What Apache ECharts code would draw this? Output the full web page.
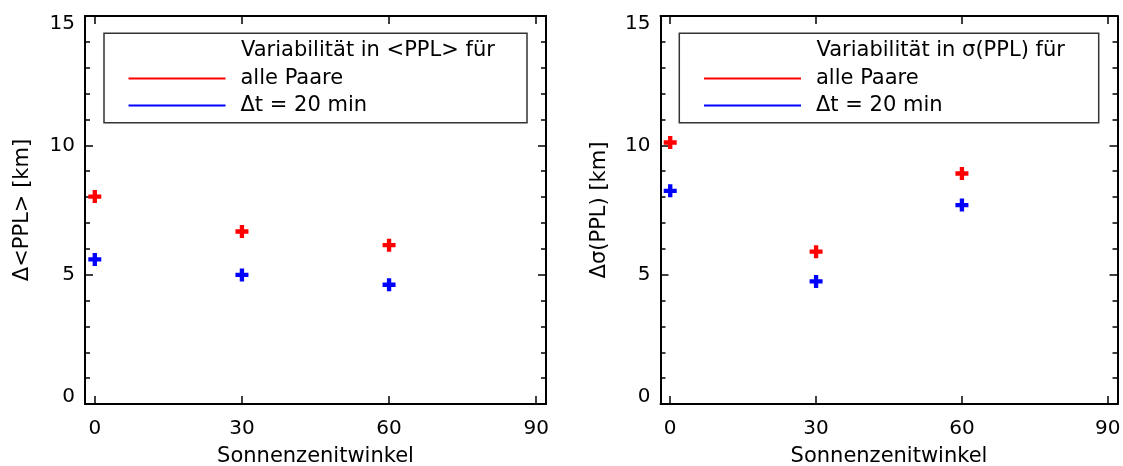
<!DOCTYPE html>
<html><head><meta charset="utf-8">
<script src="https://cdn.jsdelivr.net/npm/echarts@6/dist/echarts.min.js"></script>
<style>html,body{margin:0;padding:0;background:#fff}#c{width:1123px;height:466px}</style>
</head><body><div id="c"></div>
<script>
// ---- data ----
const angles = [0, 30, 60];
const xTicks = [0, 30, 60, 90];
const yTickStep = 5;
const meanAll = [8.02, 6.67, 6.14];
const mean20 = [5.59, 4.99, 4.61];
const sigmaAll = [10.11, 5.89, 8.91];
const sigma20 = [8.24, 4.74, 7.69];
const seriesNames = ['alle Paare', 'Δt = 20 min'];
const legendTitles = ['Variabilität in <PPL> für', 'Variabilität in σ(PPL) für'];
const yNames = ['Δ<PPL> [km]', 'Δσ(PPL) [km]'];
const xName = 'Sonnenzenitwinkel';
const colors = ['#ff0000', '#0000ff'];

// ---- style ----
const FONT = 'DejaVu Sans';
const plus = 'path://M4,0H8V4H12V8H8V12H4V8H0V4H4Z';
const grids = [
  {left: 85, top: 16, width: 461, height: 388},
  {left: 660.5, top: 16, width: 457, height: 388}
];
const txt = {fontFamily: FONT, fontSize: 20, color: '#000'};
const big = {fontFamily: FONT, fontSize: 21, color: '#000'};

function pair(data, ang) { return ang.map((a, i) => [a, data[i]]); }

const xAxis = [], yAxis = [];
grids.forEach((g, k) => {
  const base = {
    gridIndex: k, type: 'value', min: -2, max: 92,
    splitLine: {show: false},
    axisLine: {show: true, onZero: false, lineStyle: {color: '#000', width: 2}},
    axisTick: {show: true, inside: true, length: 8, lineStyle: {color: '#000', width: 1.5}, customValues: xTicks}
  };
  xAxis.push(Object.assign({}, base, {
    position: 'bottom',
    axisLabel: Object.assign({}, txt, {margin: 15, customValues: xTicks}),
    name: xName, nameLocation: 'middle', nameGap: 42, nameTextStyle: big
  }));
  xAxis.push(Object.assign({}, base, {position: 'top', axisLabel: {show: false}}));
  const ybase = {
    gridIndex: k, type: 'value', min: 0, max: 15, interval: yTickStep,
    splitLine: {show: false},
    axisLine: {show: true, onZero: false, lineStyle: {color: '#000', width: 2}},
    axisTick: {show: true, inside: true, length: 8, lineStyle: {color: '#000', width: 1.5}},
    minorTick: {show: true, splitNumber: 5, length: 5, lineStyle: {color: '#000', width: 1.5}}
  };
  yAxis.push(Object.assign({}, ybase, {
    position: 'left',
    axisLabel: Object.assign({}, txt, {
      margin: 10,
      formatter: v => v === 15 ? '{t|15}' : (v === 0 ? '{b|0}' : String(v)),
      rich: {
        t: Object.assign({}, txt, {padding: [16, 0, 0, 0]}),
        b: Object.assign({}, txt, {padding: [0, 0, 14, 0]})
      }
    }),
    name: yNames[k], nameLocation: 'middle', nameGap: k === 0 ? 52 : 50, nameTextStyle: big
  }));
  yAxis.push(Object.assign({}, ybase, {position: 'right', axisLabel: {show: false}}));
});

const panelData = [[meanAll, mean20], [sigmaAll, sigma20]];
const series = [];
panelData.forEach((pd, k) => {
  pd.forEach((vals, j) => {
    series.push({
      type: 'scatter', name: seriesNames[j],
      xAxisIndex: 2 * k, yAxisIndex: 2 * k,
      symbol: plus, symbolSize: 13,
      itemStyle: {color: colors[j], opacity: 1},
      emphasis: {disabled: true},
      data: pair(vals, angles)
    });
  });
});

const legendBoxes = [
  {x: 104, y: 33.3, width: 423, height: 89.4},
  {x: 679.3, y: 33.3, width: 419.4, height: 89.4}
];
const legendLeft = [128.5, 704];
const titleLeft = [241, 816.5];

const option = {
  backgroundColor: '#fff',
  animation: false,
  grid: grids.map(g => Object.assign({show: false, containLabel: false, outerBoundsMode: 'none'}, g)),
  xAxis, yAxis, series,
  title: legendTitles.map((t, k) => ({
    text: t, left: titleLeft[k], top: 41, padding: 0,
    textStyle: Object.assign({}, big, {fontWeight: 'normal', lineHeight: 20})
  })),
  legend: [0, 1].map(k => ({
    data: seriesNames, left: legendLeft[k], top: 68, orient: 'vertical',
    icon: 'rect', itemWidth: 97, itemHeight: 2, itemGap: 6, padding: 0,
    selectedMode: false,
    textStyle: Object.assign({}, big, {lineHeight: 20, padding: [0, 0, 0, 10]})
  })),
  graphic: legendBoxes.map(b => ({
    type: 'rect', shape: b, silent: true,
    style: {fill: 'none', stroke: '#333', lineWidth: 1.5}
  }))
};

const chart = echarts.init(document.getElementById('c'), null, {renderer: 'canvas'});
chart.setOption(option);
</script>
</body></html>
